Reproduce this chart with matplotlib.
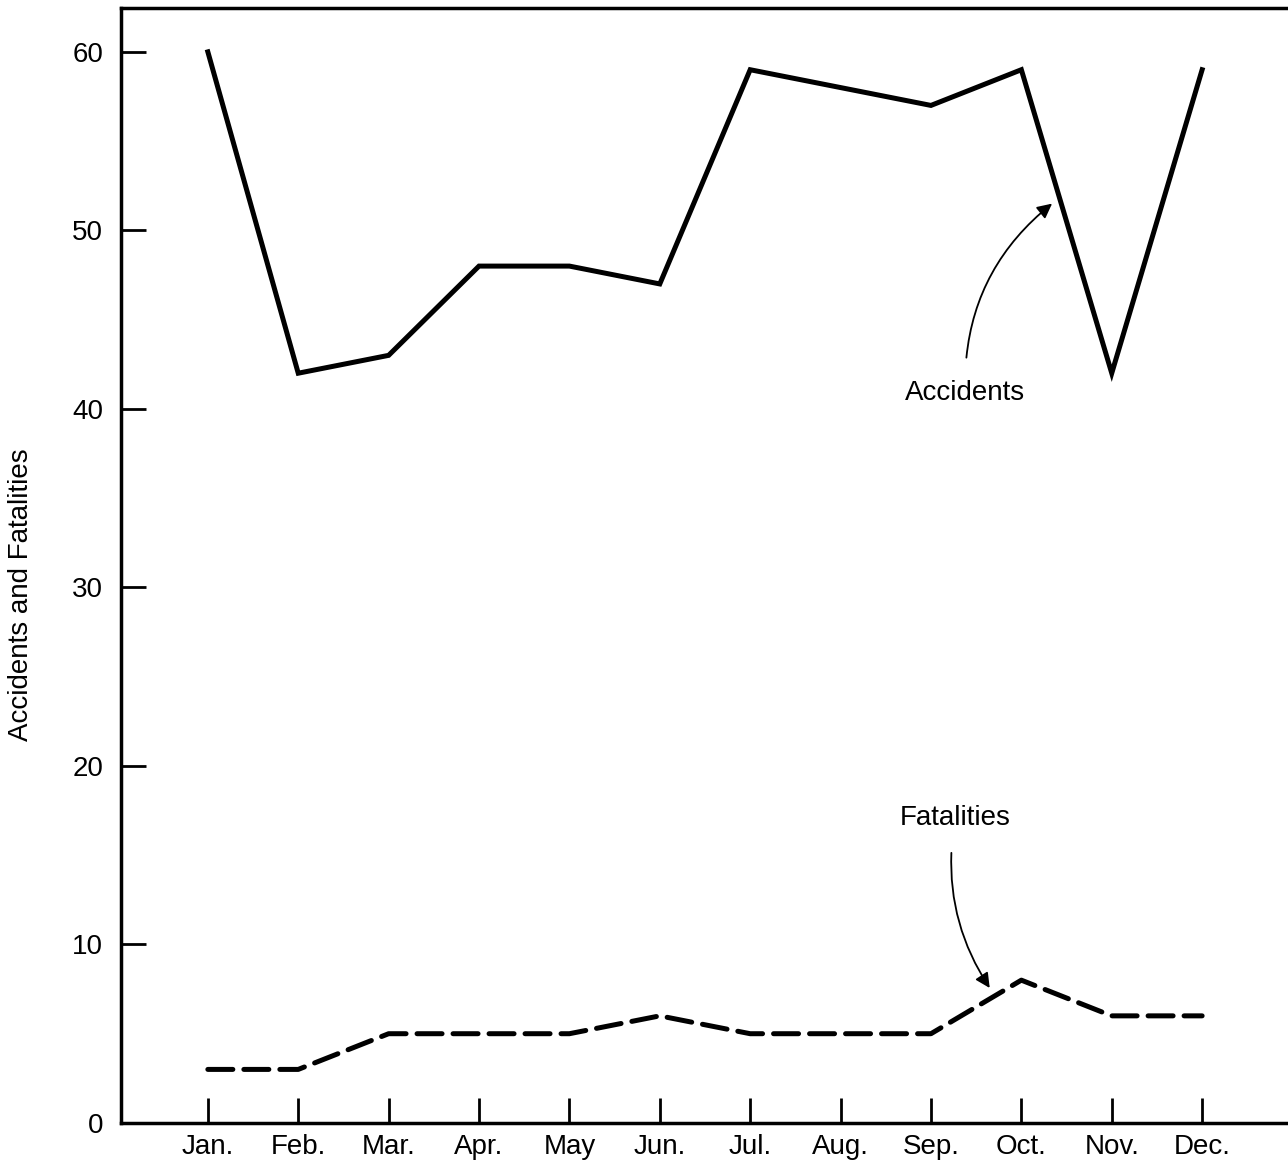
import matplotlib.pyplot as plt

# Monthly counts.
months = ["Jan.", "Feb.", "Mar.", "Apr.", "May", "Jun.",
          "Jul.", "Aug.", "Sep.", "Oct.", "Nov.", "Dec."]
accidents = [60, 42, 43, 48, 48, 47, 59, 58, 57, 59, 42, 59]
fatalities = [3, 3, 5, 5, 5, 6, 5, 5, 5, 8, 6, 6]
y_ticks = [0, 10, 20, 30, 40, 50, 60]

plt.rcParams['font.family'] = ['Liberation Sans', 'DejaVu Sans']

fig = plt.figure(figsize=(12.88, 11.7), dpi=100)
ax = fig.add_axes([0.094, 0.0402, 0.906, 0.953])

x = range(1, len(months) + 1)
ax.plot(x, accidents, color='black', linewidth=3.6, solid_joinstyle='miter')
ax.plot(x, fatalities, color='black', linewidth=3.6,
        linestyle=(0, (5, 2.2)), dash_capstyle='round')

ax.set_xlim(0.04, 12.95)
ax.set_ylim(0, 62.46)
ax.set_xticks(list(x))
ax.set_xticklabels(months)
ax.set_yticks(y_ticks)

ax.tick_params(axis='both', direction='in', length=18, width=2,
               labelsize=20, colors='black')
ax.tick_params(axis='x', pad=8)
ax.tick_params(axis='y', pad=13)
for side in ['left', 'bottom', 'top']:
    ax.spines[side].set_linewidth(2.5)
ax.spines['right'].set_visible(False)

ax.set_ylabel("Accidents and Fatalities", fontsize=20)
ax.yaxis.set_label_coords(-0.0745, 0.4735)

# Curved arrows pointing to each series.
ax.annotate("Accidents", xy=(10.34, 51.5), xytext=(9.38, 40.9),
            fontsize=20, ha='center', va='center',
            arrowprops=dict(arrowstyle='-|>', color='black', lw=1.3,
                            mutation_scale=22, shrinkA=14, shrinkB=0,
                            connectionstyle='arc3,rad=-0.25'))
ax.annotate("Fatalities", xy=(9.65, 7.56), xytext=(9.27, 17.1),
            fontsize=20, ha='center', va='center',
            arrowprops=dict(arrowstyle='-|>', color='black', lw=1.3,
                            mutation_scale=22, shrinkA=14, shrinkB=0,
                            connectionstyle='arc3,rad=0.2'))

fig.savefig("out.png", dpi=100)
